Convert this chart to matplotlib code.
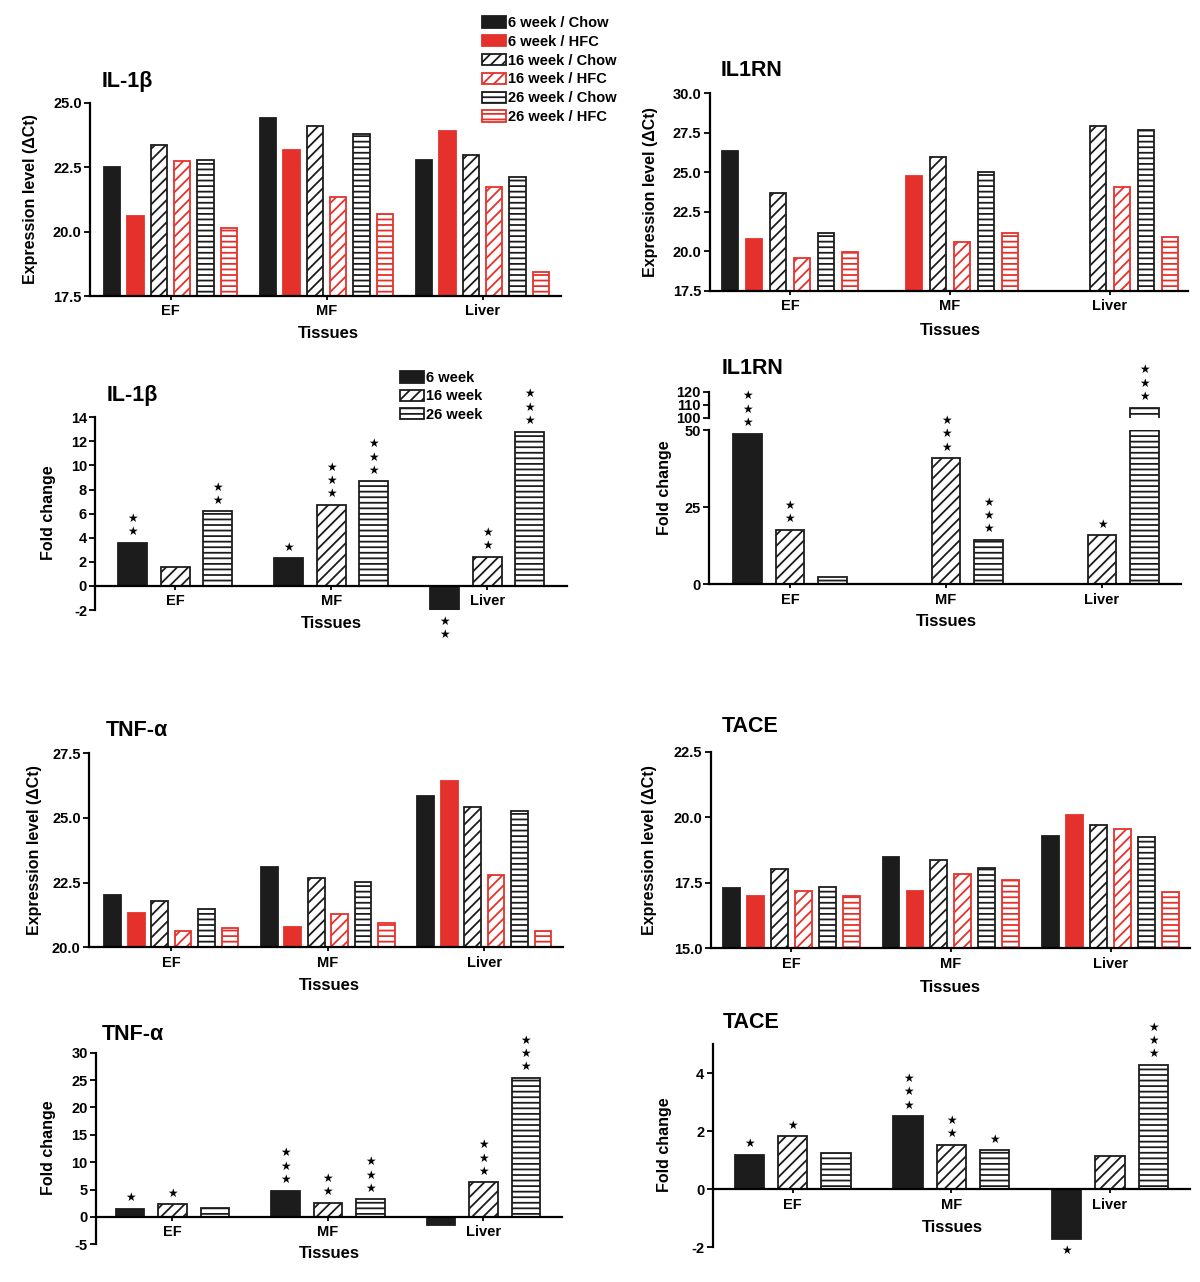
import numpy as np
import matplotlib
matplotlib.use("Agg")
import matplotlib.pyplot as plt
from matplotlib.patches import Patch

plt.rcParams["font.family"] = ["Liberation Sans", "DejaVu Sans"]
plt.rcParams["font.weight"] = "bold"
plt.rcParams["hatch.linewidth"] = 1.3
plt.rcParams["axes.unicode_minus"] = False

nan = np.nan

tissues = ["EF", "MF", "Liver"]
expr_series = ["6 week / Chow", "6 week / HFC", "16 week / Chow",
               "16 week / HFC", "26 week / Chow", "26 week / HFC"]
fold_series = ["6 week", "16 week", "26 week"]

# expression level (dCt), one row per series, columns EF / MF / Liver
il1b_expr = [[22.50, 24.40, 22.78],
             [20.62, 23.19, 23.92],
             [23.36, 24.12, 22.98],
             [22.73, 21.35, 21.74],
             [22.77, 23.80, 22.14],
             [20.16, 20.69, 18.45]]
il1rn_expr = [[26.37, nan, nan],
              [20.76, 24.77, nan],
              [23.67, 25.95, 27.95],
              [19.58, 20.61, 24.05],
              [21.14, 25.00, 27.68],
              [19.98, 21.14, 20.87]]
tnf_expr = [[22.04, 23.12, 25.84],
            [21.34, 20.80, 26.44],
            [21.78, 22.67, 25.44],
            [20.62, 21.28, 22.80],
            [21.48, 22.53, 25.28],
            [20.73, 20.93, 20.62]]
tace_expr = [[17.29, 18.50, 19.30],
             [17.00, 17.17, 20.08],
             [18.03, 18.35, 19.72],
             [17.17, 17.82, 19.54],
             [17.34, 18.08, 19.25],
             [17.00, 17.62, 17.14]]

# fold change, one row per age, columns EF / MF / Liver
il1b_fold = [[3.6, 2.3, -2.0],
             [1.6, 6.73, 2.44],
             [6.18, 8.67, 12.82]]
il1b_stars = [[2, 1, 2], [0, 3, 2], [2, 3, 3]]
il1rn_fold = [[48.8, nan, nan],
              [17.6, 40.8, 15.9],
              [2.5, 14.4, 107.7]]
il1rn_stars = [[3, 0, 0], [2, 3, 1], [0, 3, 3]]
tnf_fold = [[1.46, 4.8, -1.5],
            [2.3, 2.6, 6.3],
            [1.7, 3.2, 25.4]]
tnf_stars = [[1, 3, 0], [1, 2, 3], [0, 3, 3]]
tace_fold = [[1.19, 2.51, -1.71],
             [1.82, 1.53, 1.15],
             [1.25, 1.34, 4.28]]
tace_stars = [[1, 3, 1], [1, 2, 0], [0, 1, 3]]

BLACK = "#1c1c1c"
RED = "#e5312b"
expr_style = [(BLACK, BLACK, ""), (RED, RED, ""),
              ("white", BLACK, "///"), ("white", RED, "///"),
              ("white", BLACK, "---"), ("white", RED, "---")]
fold_style = [(BLACK, BLACK, ""), ("white", BLACK, "///"), ("white", BLACK, "---")]

W, H = 1200, 1282
fig = plt.figure(figsize=(W / 100, H / 100), dpi=100)


def px_axes(l, r, t, b):
    ax = fig.add_axes([l / W, 1 - b / H, (r - l) / W, (b - t) / H])
    ax.patch.set_alpha(0)
    return ax


def fig_text(x, y, s, **kw):
    fig.text(x / W, 1 - y / H, s, **kw)


def style_axes(ax, xlim, ylim, yticks, fmt=None, zero_axis=False):
    ax.set_xlim(xlim)
    ax.set_ylim(ylim)
    for side in ["top", "right"]:
        ax.spines[side].set_visible(False)
    for side in ["left", "bottom"]:
        ax.spines[side].set_linewidth(1.6)
    if zero_axis:
        ax.spines["bottom"].set_position(("data", 0))
    ax.set_yticks(yticks)
    if fmt:
        ax.set_yticklabels([fmt % v for v in yticks])
    ax.set_xticks(range(len(tissues)), tissues)
    ax.tick_params(axis="both", width=1.3, length=4, labelsize=10.5, pad=2)
    ax.tick_params(axis="x", length=3, pad=3)


def expr_panel(ax, data, ymin, width=0.106, pitch=0.15):
    x = np.arange(len(tissues))
    for i, (vals, (fc, ec, hatch)) in enumerate(zip(data, expr_style)):
        vals = np.asarray(vals, float)
        ax.bar(x + (i - 2.5) * pitch, vals - ymin, width, bottom=ymin,
               facecolor=fc, edgecolor=ec, hatch=hatch, linewidth=1.3)


def fold_panel(axes, data, stars, width=0.185, pitch=0.273):
    x = np.arange(len(tissues))
    for i, (vals, nst, (fc, ec, hatch)) in enumerate(zip(data, stars, fold_style)):
        xs = x + (i - 1) * pitch
        for ax in axes:
            ax.bar(xs, vals, width, facecolor=fc, edgecolor=ec, hatch=hatch,
                   linewidth=1.3)
        for xi, v, n in zip(xs, vals, nst):
            if n == 0 or np.isnan(v):
                continue
            # stars go on the axes that shows the bar end
            ax = axes[-1]
            for a in axes:
                lo, hi = a.get_ylim()
                if lo <= v <= hi:
                    ax = a
            sign = 1 if v >= 0 else -1
            for k in range(n):
                ax.annotate("\u2605", (xi, v), xytext=(0, sign * (8 + 9.6 * k)),
                            textcoords="offset points", ha="center", va="center",
                            fontsize=8.5, family="DejaVu Sans", fontweight="normal",
                            annotation_clip=False)


def labels(title, tx, ty, ylabel, yx, yy, lx, ly):
    fig_text(tx, ty, title, fontsize=15.5, ha="left", va="center")
    fig_text(yx, yy, ylabel, fontsize=11.5, rotation=90, ha="center", va="center")
    fig_text(lx, ly, "Tissues", fontsize=12, ha="center", va="center")


EXPR_LABEL = "Expression level (\u0394Ct)"
FOLD_LABEL = "Fold change"

# IL-1b expression
ax = px_axes(90, 561, 103, 296)
style_axes(ax, (-0.516, 2.503), (17.5, 25.0), [17.5, 20.0, 22.5, 25.0], "%.1f")
expr_panel(ax, il1b_expr, 17.5)
labels("IL-1\u03b2", 102, 82, EXPR_LABEL, 31, 199, 328, 334)

# IL1RN expression
ax = px_axes(709.6, 1188, 93.3, 290.7)
style_axes(ax, (-0.5025, 2.4875), (17.5, 30.0),
           [17.5, 20.0, 22.5, 25.0, 27.5, 30.0], "%.1f")
expr_panel(ax, il1rn_expr, 17.5)
labels("IL1RN", 721, 70, EXPR_LABEL, 650, 192, 950, 330)

# IL-1b fold change
ax = px_axes(95.4, 567, 417.3, 610)
style_axes(ax, (-0.512, 2.511), (-2, 14), list(range(-2, 15, 2)), zero_axis=True)
fold_panel([ax], il1b_fold, il1b_stars)
labels("IL-1\u03b2", 107, 395, FOLD_LABEL, 49, 513, 331, 623)

# IL1RN fold change (broken axis)
ax_lo = px_axes(709, 1181, 430, 584.3)
style_axes(ax_lo, (-0.519, 2.506), (0, 50), [0, 25, 50], zero_axis=True)
ax_hi = px_axes(709, 1181, 391.7, 417.7)
style_axes(ax_hi, (-0.519, 2.506), (100, 120), [100, 110, 120])
ax_hi.spines["bottom"].set_visible(False)
ax_hi.set_xticks([])
fold_panel([ax_lo, ax_hi], il1rn_fold, il1rn_stars)
labels("IL1RN", 722, 368, FOLD_LABEL, 665, 488, 946, 622)

# TNF-a expression
ax = px_axes(89, 563, 753.3, 947.3)
style_axes(ax, (-0.527, 2.502), (20.0, 27.5), [20.0, 22.5, 25.0, 27.5], "%.1f")
expr_panel(ax, tnf_expr, 20.0)
labels("TNF-\u03b1", 106, 730, EXPR_LABEL, 35, 850, 329, 985)

# TACE expression
ax = px_axes(710.8, 1190, 751.7, 948.3)
style_axes(ax, (-0.504, 2.498), (15.0, 22.5), [15.0, 17.5, 20.0, 22.5], "%.1f")
expr_panel(ax, tace_expr, 15.0)
labels("TACE", 722, 726, EXPR_LABEL, 649, 850, 950, 987)

# TNF-a fold change
ax = px_axes(96, 561.5, 1052.7, 1244.3)
style_axes(ax, (-0.492, 2.502), (-5, 30), list(range(-5, 31, 5)), zero_axis=True)
fold_panel([ax], tnf_fold, tnf_stars)
labels("TNF-\u03b1", 102, 1034, FOLD_LABEL, 49, 1148, 329, 1253)

# TACE fold change
ax = px_axes(712.7, 1190, 1044, 1247.3)
style_axes(ax, (-0.504, 2.504), (-2, 5), [-2, 0, 2, 4], zero_axis=True)
fold_panel([ax], tace_fold, tace_stars)
labels("TACE", 723, 1023, FOLD_LABEL, 665, 1145, 952, 1227)

# legends
expr_handles = [Patch(facecolor=fc, edgecolor=ec, hatch=h, linewidth=1.3)
                for fc, ec, h in expr_style]
fig.legend(expr_handles, expr_series, loc="upper left",
           bbox_to_anchor=(482 / W, 1 - 16 / H), frameon=False, fontsize=10.5,
           handlelength=1.64, handleheight=0.82, handletextpad=0.15,
           labelspacing=0.33, borderpad=0, borderaxespad=0)
fold_handles = [Patch(facecolor=fc, edgecolor=ec, hatch=h, linewidth=1.3)
                for fc, ec, h in fold_style]
fig.legend(fold_handles, fold_series, loc="upper left",
           bbox_to_anchor=(400 / W, 1 - 371 / H), frameon=False, fontsize=10.5,
           handlelength=1.64, handleheight=0.82, handletextpad=0.15,
           labelspacing=0.3, borderpad=0, borderaxespad=0)

fig.savefig("out.png", dpi=100)
